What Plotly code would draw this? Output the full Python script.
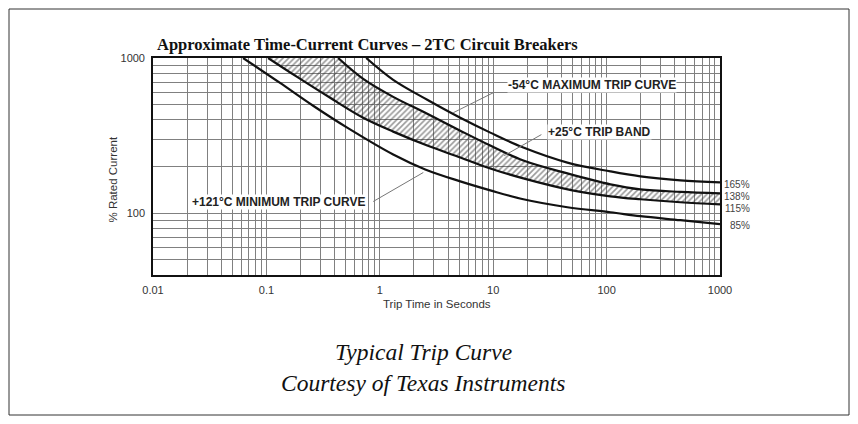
import math
import plotly.graph_objects as go

# ---------------- data ----------------
# +121°C minimum trip curve (ends at ~85 %)
min_t = [0.0623, 0.132, 0.2584, 0.5157, 1.313, 2.516, 5.124, 9.43, 18.44, 45.1, 108, 198.6, 447.7, 1000]
min_i = [1000, 691, 492.4, 355.9, 238.9, 191.4, 160.4, 140.4, 123, 109.3, 101.5, 95.7, 90.2, 85.0]

# +25°C trip band, lower edge (ends at ~115 %)
band_lo_t = [0.1035, 0.1866, 0.365, 0.7137, 1.313, 2.62, 5.124, 9.43, 18.44, 49.9, 108, 198.6, 447.7, 1000]
band_lo_i = [1000, 755.3, 554, 412, 335.5, 272.9, 228.6, 194.3, 167.7, 140.4, 128.5, 123, 117.7, 114.2]

# +25°C trip band, upper edge
band_hi_t = [0.4294, 0.7137, 1.313, 2.62, 5.124, 9.43, 18.44, 45.1, 108, 198.6, 447.7, 1000]
band_hi_i = [1000, 733.4, 562, 437.5, 340.4, 272.9, 218.7, 180.5, 153.5, 142.5, 137.3, 134.4]

# -54°C maximum trip curve
max_t = [0.7586, 1.313, 2.62, 5.124, 9.43, 18.44, 45.1, 108, 198.6, 447.7, 1000]
max_i = [1000, 723, 538, 412, 330.6, 264.9, 212, 186, 172.7, 163, 158]

x_major = [0.01, 0.1, 1, 10, 100, 1000]
x_major_text = ["0.01", "0.1", "1", "10", "100", "1000"]
y_major = [100, 1000]
y_major_text = ["100", "1000"]

end_labels = ["165%", "138%", "115%", "85%"]

title_text = "Approximate Time-Current Curves – 2TC Circuit Breakers"
caption_1 = "Typical Trip Curve"
caption_2 = "Courtesy of Texas Instruments"

# ---------------- layout geometry ----------------
# the page body has an 8px margin, so the figure is 8px smaller than the window
OFF = 8
W, H = 858 - OFF, 424 - OFF
PL, PR, PT, PB = 153, 720, 58, 275          # plot box in window pixels
L, R, T, B = PL - OFF, 858 - PR, PT - OFF, 424 - PB
PW, PH = W - L - R, H - T - B


def px(xs):
    """window x pixel -> paper coordinate"""
    return (xs - PL) / PW


def py(ys):
    """window y pixel -> paper coordinate"""
    return (PB - ys) / PH


# grid values (1..9 per decade)
x_grid = [m * 10 ** e for e in range(-2, 3) for m in range(1, 10)] + [1000]
x_grid_text = [x_major_text[x_major.index(v)] if v in x_major else "" for v in x_grid]
y_grid = [m * 10 ** e for e in (1, 2) for m in range(1, 10) if m * 10 ** e >= 40] + [1000]
y_grid_text = [y_major_text[y_major.index(v)] if v in y_major else "" for v in y_grid]

fig = go.Figure()

curve_line = dict(color="#111111", width=2.2, shape="spline", smoothing=1.0)

# hatched band
fig.add_trace(go.Scatter(x=band_lo_t, y=band_lo_i, mode="lines", line=curve_line,
                         hoverinfo="skip", showlegend=False))
fig.add_trace(go.Scatter(x=band_hi_t, y=band_hi_i, mode="lines", line=curve_line,
                         fill="tonexty", fillcolor="rgba(0,0,0,0)",
                         fillpattern=dict(shape="/", fgcolor="#333333", bgcolor="rgba(0,0,0,0)",
                                          size=4, solidity=0.4),
                         hoverinfo="skip", showlegend=False))
fig.add_trace(go.Scatter(x=min_t, y=min_i, mode="lines", line=curve_line,
                         hoverinfo="skip", showlegend=False))
fig.add_trace(go.Scatter(x=max_t, y=max_i, mode="lines", line=curve_line,
                         hoverinfo="skip", showlegend=False))

# leader lines (label -> curve)
leaders = [
    ([10.0, 4.44], [597, 444]),      # -54°C
    ([26.6, 12.5], [321, 235]),      # +25°C band
    ([0.875, 2.42], [119, 183]),     # +121°C
]
for lx, ly in leaders:
    fig.add_trace(go.Scatter(x=lx, y=ly, mode="lines", line=dict(color="#777777", width=1),
                             hoverinfo="skip", showlegend=False))

lab_font = dict(family="Liberation Sans, Arial, sans-serif", size=12, color="#222222")
annotations = [
    dict(text="<b>-54°C MAXIMUM TRIP CURVE</b>", x=1.1245, y=2.827, xref="x", yref="y",
         xanchor="left", yanchor="middle", showarrow=False, font=lab_font, bgcolor="white", borderpad=0),
    dict(text="<b>+25°C TRIP BAND</b>", x=1.4775, y=2.5256, xref="x", yref="y",
         xanchor="left", yanchor="middle", showarrow=False, font=lab_font, bgcolor="white", borderpad=0),
    dict(text="<b>+121°C MINIMUM TRIP CURVE</b>", x=-0.120, y=2.0705, xref="x", yref="y",
         xanchor="right", yanchor="middle", showarrow=False, font=lab_font, bgcolor="white", borderpad=0),
    dict(text="<b>" + title_text + "</b>", x=px(155), y=py(44), xref="paper", yref="paper",
         xanchor="left", yanchor="middle", showarrow=False,
         font=dict(family="Liberation Serif, Times New Roman, serif", size=16.5, color="#111111")),
    dict(text="Trip Time in Seconds", x=px(437), y=py(304), xref="paper", yref="paper",
         xanchor="center", yanchor="middle", showarrow=False,
         font=dict(family="Liberation Sans, Arial, sans-serif", size=11.5, color="#333333")),
    dict(text="% Rated Current", x=px(112.5), y=py(180), xref="paper", yref="paper",
         xanchor="center", yanchor="middle", showarrow=False, textangle=-90,
         font=dict(family="Liberation Sans, Arial, sans-serif", size=11.5, color="#333333")),
    dict(text="<i>" + caption_1 + "</i>", x=px(423), y=py(352), xref="paper", yref="paper",
         xanchor="center", yanchor="middle", showarrow=False,
         font=dict(family="Liberation Serif, Times New Roman, serif", size=23.5, color="#111111")),
    dict(text="<i>" + caption_2 + "</i>", x=px(423), y=py(383), xref="paper", yref="paper",
         xanchor="center", yanchor="middle", showarrow=False,
         font=dict(family="Liberation Serif, Times New Roman, serif", size=23.5, color="#111111")),
]
for lbl, yp in zip(end_labels, [184, 196, 208, 225]):
    annotations.append(dict(text=lbl, x=px(751), y=py(yp), xref="paper", yref="paper",
                            xanchor="right", yanchor="middle", showarrow=False, borderpad=0,
                            font=dict(family="Liberation Sans, Arial, sans-serif", size=10, color="#444444")))

axis_common = dict(showgrid=True, gridcolor="#808080", gridwidth=1, zeroline=False,
                   showline=True, linecolor="#111111", linewidth=1.6, mirror=True,
                   ticks="outside", ticklen=4, tickcolor="rgba(0,0,0,0)",
                   tickfont=dict(family="Liberation Sans, Arial, sans-serif", size=11, color="#333333"))

fig.update_layout(
    width=W, height=H,
    margin=dict(l=L, r=R, t=T, b=B),
    paper_bgcolor="white", plot_bgcolor="white",
    showlegend=False,
    xaxis=dict(type="log", range=[-2, 3], tickmode="array", tickvals=x_grid, ticktext=x_grid_text,
               **axis_common),
    yaxis=dict(type="log", range=[math.log10(40), 3], tickmode="array", tickvals=y_grid,
               ticktext=y_grid_text, **axis_common),
    annotations=annotations,
    shapes=[dict(type="rect", xref="paper", yref="paper", x0=px(9), x1=px(849), y0=py(415), y1=py(9),
                 line=dict(color="#333333", width=1), fillcolor="rgba(0,0,0,0)", layer="below")],
)

fig.write_html("out.html")
